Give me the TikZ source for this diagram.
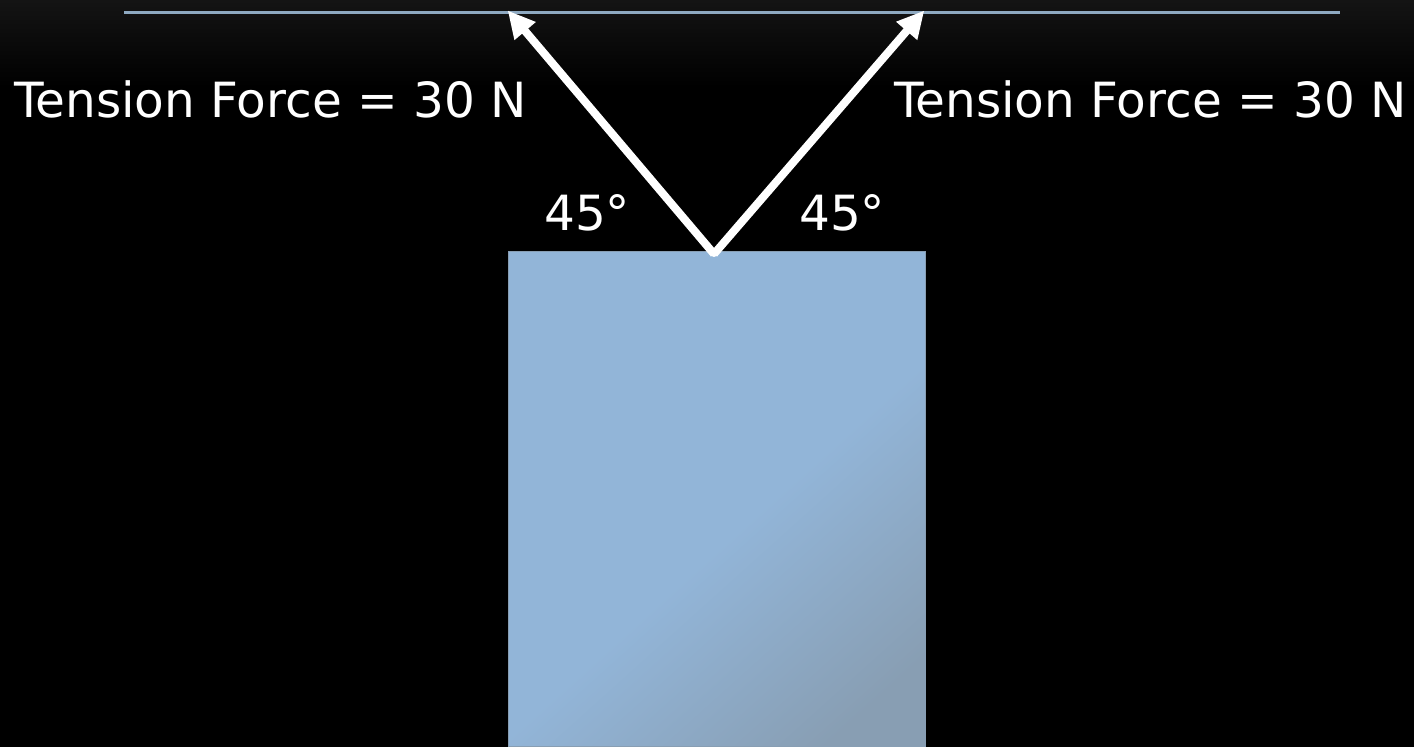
\documentclass[tikz,border=0pt]{standalone}
\usepackage{fontspec}
\setmainfont{DejaVu Sans}
\usetikzlibrary{arrows.meta}
\definecolor{blockA}{HTML}{92B5D8}
\definecolor{blockB}{HTML}{889EB3}
\definecolor{ceil}{HTML}{8EA9C1}
\definecolor{bgtop}{HTML}{141414}
\pgfdeclarehorizontalshading{blockshade}{100bp}{color(0bp)=(blockA); color(54bp)=(blockA); color(78bp)=(blockB); color(100bp)=(blockB)}
\tikzset{
  force/.style={draw=white, line width=8pt, -{Triangle[length=27pt,width=26pt]}, shorten >=-2pt},
  lbl/.style={text=white, font=\fontsize{48.5}{58}\selectfont, inner sep=0pt, anchor=base west},
}
\begin{document}
\begin{tikzpicture}[x=1pt,y=1pt]
\useasboundingbox (0,0) rectangle (1414,747);
\fill[black] (0,0) rectangle (1414,747);
\shade[top color=bgtop, bottom color=black] (0,660) rectangle (1414,747);
% ceiling
\draw[ceil, line width=3pt] (124,734) -- (1340,734);
% block
\shade[shading=blockshade, shading angle=-48, draw=blockB, line width=1pt]
  (508,0) rectangle (925,495);
\node[minimum width=0, inner sep=0] (block) at (716.5,247.5) {};
\coordinate (tail) at (714,493);
\coordinate (tipL) at (509,735);
\coordinate (tipR) at (923,735);
\draw[force] (tail) -- (tipL);
\draw[force] (tail) -- (tipR);
\fill[white] (tail) circle (3pt);
% labels
\node[lbl] (tl) at (14,629) {Tension Force = 30 N};
\node[lbl] (tr) at (894,629) {Tension Force = 30 N};
\node[lbl] (al) at (544,516) {45°};
\node[lbl] (ar) at (799,516) {45°};
\end{tikzpicture}
\end{document}
